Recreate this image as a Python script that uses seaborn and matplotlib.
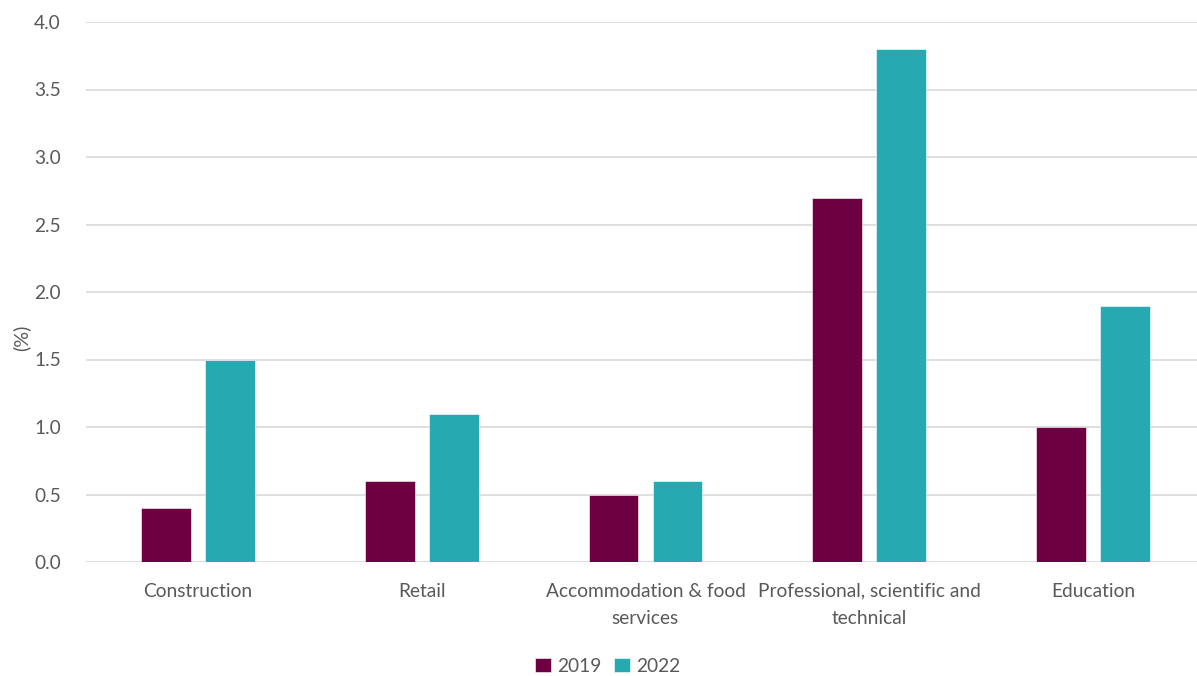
import matplotlib
matplotlib.use("Agg")
import matplotlib.pyplot as plt
import seaborn as sns
import pandas as pd

categories = ["Construction", "Retail", "Accommodation & food\nservices",
              "Professional, scientific and\ntechnical", "Education"]
values_2019 = [0.4, 0.6, 0.5, 2.7, 1.0]
values_2022 = [1.5, 1.1, 0.6, 3.8, 1.9]
years = ["2019", "2022"]
y_ticks = [0.0, 0.5, 1.0, 1.5, 2.0, 2.5, 3.0, 3.5, 4.0]

df = pd.DataFrame({
    "category": categories * 2,
    "year": [years[0]] * len(categories) + [years[1]] * len(categories),
    "value": values_2019 + values_2022,
})

sns.set_theme(style="white")
plt.rcParams["font.family"] = ["Lato", "DejaVu Sans"]
text_color = "#595959"
fs = 13.8

W, H = 1197, 676
fig = plt.figure(figsize=(W / 100, H / 100), dpi=100)
ax = fig.add_axes([86 / W, (H - 562) / H, (1197 - 86) / W, (562 - 22) / H])

palette = {"2019": "#6D0041", "2022": "#26A9B0"}
sns.barplot(data=df, x="category", y="value", hue="year", order=categories,
            hue_order=years, palette=palette, width=0.571, gap=0.22,
            edgecolor="white", linewidth=0.4, saturation=1, ax=ax, zorder=3)

ax.set_ylim(0, 4.0)
ax.set_xlim(-0.5, 4.5 - 8 / 224)
ax.set_yticks(y_ticks)
ax.set_yticklabels([f"{t:.1f}" for t in y_ticks])
ax.yaxis.grid(True, color="#D9D9D9", linewidth=1.2, zorder=0)
ax.set_axisbelow(True)
for s in ax.spines.values():
    s.set_visible(False)

ax.tick_params(axis="y", length=0, pad=18, labelsize=fs, labelcolor=text_color)
ax.tick_params(axis="x", length=0, pad=15, labelsize=fs, labelcolor=text_color)
for lbl in ax.get_xticklabels():
    lbl.set_linespacing(1.75)
    lbl.set_verticalalignment("top")
ax.set_xlabel("")
ax.set_ylabel("(%)", fontsize=fs + 0.5, color=text_color)
ax.yaxis.set_label_coords(21 / W, 0.5, transform=fig.transFigure)
ax.yaxis.label.set_verticalalignment("center")

leg = ax.legend(loc="center", bbox_to_anchor=(608 / W, 10 / H),
                bbox_transform=fig.transFigure, ncol=2, frameon=False,
                fontsize=fs, handlelength=0.8, handleheight=0.8,
                handletextpad=0.35, columnspacing=0.65)
for t in leg.get_texts():
    t.set_color(text_color)

fig.savefig("out.png", dpi=100, facecolor="white")
